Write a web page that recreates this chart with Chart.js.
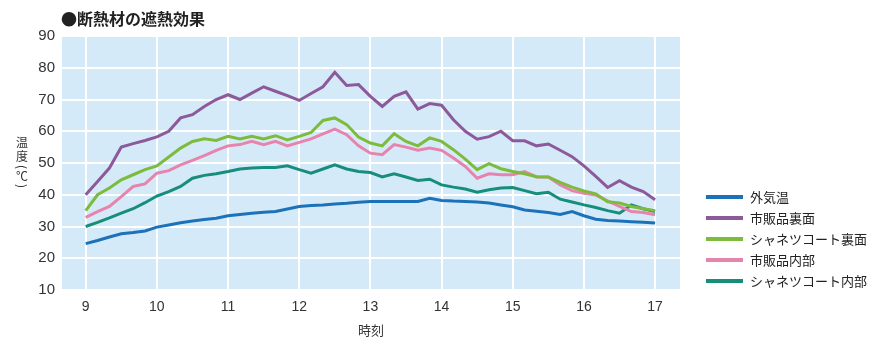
<!DOCTYPE html>
<html>
<head>
<meta charset="utf-8">
<script src="https://cdn.jsdelivr.net/npm/chart.js@4/dist/chart.umd.min.js"></script>
<style>
  body { margin: 0; background: #fff; }
  #wrap { position: relative; width: 896px; height: 364px; }
</style>
</head>
<body>
<div id="wrap"><canvas id="myChart" width="896" height="364"></canvas></div>
<script>
// 計測時刻（10分ごと）
const times = [
  '9:00','9:10','9:20','9:30','9:40','9:50',
  '10:00','10:10','10:20','10:30','10:40','10:50',
  '11:00','11:10','11:20','11:30','11:40','11:50',
  '12:00','12:10','12:20','12:30','12:40','12:50',
  '13:00','13:10','13:20','13:30','13:40','13:50',
  '14:00','14:10','14:20','14:30','14:40','14:50',
  '15:00','15:10','15:20','15:30','15:40','15:50',
  '16:00','16:10','16:20','16:30','16:40','16:50',
  '17:00'
];
const hourTicks = [9, 10, 11, 12, 13, 14, 15, 16, 17];
const tempTicks = [10, 20, 30, 40, 50, 60, 70, 80, 90];

const seriesNames = ['外気温', '市販品裏面', 'シャネツコート裏面', '市販品内部', 'シャネツコート内部'];

const outside = [
  24.6, 25.6, 26.7, 27.7, 28.1, 28.6,
  29.8, 30.5, 31.2, 31.7, 32.2, 32.6,
  33.4, 33.8, 34.2, 34.5, 34.7, 35.5,
  36.3, 36.6, 36.8, 37.1, 37.3, 37.6,
  37.9, 37.9, 37.9, 37.9, 37.9, 38.9,
  38.2, 38.0, 37.9, 37.7, 37.4, 36.8,
  36.2, 35.2, 34.8, 34.4, 33.8, 34.7,
  33.4, 32.3, 31.9, 31.7, 31.5, 31.3,
  31.1
];
const shihanUra = [
  40.0, 44.2, 48.4, 55.0, 56.1, 57.1,
  58.2, 60.0, 64.2, 65.2, 67.8, 70.0,
  71.5, 70.0, 72.0, 74.0, 72.6, 71.2,
  69.7, 71.9, 74.0, 78.6, 74.4, 74.7,
  71.0, 67.8, 71.0, 72.4, 67.0, 68.7,
  68.2, 63.6, 60.0, 57.5, 58.3, 60.0,
  57.0, 57.0, 55.4, 56.0, 54.0, 52.0,
  49.1, 45.8, 42.3, 44.4, 42.4, 41.0,
  38.4
];
const shanetsuUra = [
  35.0, 40.0, 42.1, 44.7, 46.3, 47.9,
  49.1, 51.9, 54.7, 56.8, 57.6, 57.1,
  58.4, 57.6, 58.4, 57.6, 58.6, 57.3,
  58.4, 59.6, 63.4, 64.2, 62.1, 58.2,
  56.3, 55.4, 59.2, 56.8, 55.4, 57.9,
  56.8, 54.2, 51.2, 47.9, 49.8, 48.2,
  47.3, 46.6, 45.7, 45.6, 43.9, 42.4,
  41.2, 40.3, 37.8, 37.4, 36.3, 35.6,
  35.0
];
const shihanNai = [
  32.9, 34.7, 36.3, 39.4, 42.6, 43.4,
  46.8, 47.6, 49.4, 50.8, 52.3, 54.0,
  55.4, 55.8, 56.8, 55.8, 56.8, 55.4,
  56.5, 57.6, 59.2, 60.7, 58.9, 55.4,
  53.1, 52.6, 55.8, 55.0, 54.0, 54.7,
  54.0, 51.6, 48.9, 45.2, 46.6, 46.3,
  46.3, 47.3, 45.6, 45.6, 43.1, 41.3,
  40.5, 39.9, 38.1, 36.3, 34.7, 34.4,
  33.7
];
const shanetsuNai = [
  30.0, 31.3, 32.7, 34.2, 35.6, 37.5,
  39.6, 41.0, 42.6, 45.2, 46.1, 46.6,
  47.3, 48.1, 48.4, 48.6, 48.6, 49.1,
  47.9, 46.8, 48.1, 49.4, 48.1, 47.3,
  47.0, 45.6, 46.6, 45.6, 44.5, 44.9,
  43.1, 42.4, 41.8, 40.8, 41.6, 42.1,
  42.3, 41.3, 40.3, 40.8, 38.6, 37.7,
  36.8, 36.0, 35.0, 34.2, 36.8, 35.6,
  34.7
];

const colors = ['#1c72b8', '#8c5a9a', '#7cbb3b', '#e784ae', '#178d7c'];
const allSeries = [outside, shihanUra, shanetsuUra, shihanNai, shanetsuNai];

function toHour(s) {
  const p = s.split(':');
  return Number(p[0]) + Number(p[1]) / 60;
}

const numFont = "'Liberation Sans', Arial, sans-serif";
const jpFont = "'Noto Sans CJK JP', sans-serif";

// 背景（プロット領域の水色）
const bgPlugin = {
  id: 'plotBg',
  beforeDraw(chart) {
    const a = chart.chartArea, ctx = chart.ctx;
    ctx.save();
    ctx.fillStyle = '#d5eaf8';
    ctx.fillRect(a.left, a.top, a.right - a.left, a.bottom - a.top);
    ctx.restore();
  }
};

// タイトル・縦書きの軸名・凡例
const textPlugin = {
  id: 'texts',
  afterDraw(chart) {
    const ctx = chart.ctx;
    ctx.save();
    ctx.fillStyle = '#222';
    ctx.font = 'bold 16px ' + jpFont;
    ctx.textBaseline = 'middle';
    ctx.textAlign = 'left';
    ctx.fillText('●断熱材の遮熱効果', 61, 19);

    // 縦書き「温度（℃）」 括弧は90度回転
    ctx.font = '12px ' + jpFont;
    ctx.fillStyle = '#333';
    ctx.textAlign = 'center';
    ctx.fillText('温', 22, 142.5);
    ctx.fillText('度', 22, 156);
    ctx.fillText('℃', 22, 176.5);
    [['(', 167], [')', 186]].forEach(([c, y]) => {
      ctx.save();
      ctx.translate(22, y);
      ctx.rotate(Math.PI / 2);
      ctx.fillText(c, 0, 0);
      ctx.restore();
    });

    ctx.textAlign = 'left';
    ctx.font = '13px ' + jpFont;
    chart.data.datasets.forEach((ds, i) => {
      const y = 197 + i * 21;
      ctx.strokeStyle = ds.borderColor;
      ctx.lineWidth = 4;
      ctx.beginPath();
      ctx.moveTo(706, y);
      ctx.lineTo(743, y);
      ctx.stroke();
      ctx.fillStyle = '#222';
      ctx.fillText(ds.label, 750, y);
    });
    ctx.restore();
  }
};

const ctx = document.getElementById('myChart').getContext('2d');
new Chart(ctx, {
  type: 'line',
  data: {
    datasets: allSeries.map((vals, i) => ({
      label: seriesNames[i],
      data: vals.map((v, j) => ({ x: toHour(times[j]), y: v })),
      borderColor: colors[i],
      backgroundColor: colors[i],
      borderWidth: 3,
      pointRadius: 0,
      tension: 0,
      fill: false
    }))
  },
  options: {
    responsive: false,
    animation: false,
    layout: { padding: { left: 0, right: 216, top: 36, bottom: 0 } },
    plugins: {
      legend: { display: false },
      tooltip: { enabled: false }
    },
    scales: {
      x: {
        type: 'linear',
        min: 8.667,
        max: 17.35,
        afterBuildTicks: s => { s.ticks = hourTicks.map(v => ({ value: v })); },
        afterFit: s => { s.height = 74; },
        grid: { color: '#ffffff', lineWidth: 2, drawTicks: false },
        border: { display: false },
        ticks: { font: { family: numFont, size: 14 }, color: '#333', padding: 9 },
        title: {
          display: true,
          text: '時刻',
          font: { family: jpFont, size: 13 },
          color: '#333',
          padding: { top: 0, bottom: 26 }
        }
      },
      y: {
        min: 10,
        max: 90,
        afterBuildTicks: s => { s.ticks = tempTicks.map(v => ({ value: v })); },
        afterFit: s => { s.width = 62; },
        grid: { color: '#ffffff', lineWidth: 2, drawTicks: false },
        border: { display: false },
        ticks: { font: { family: numFont, size: 15 }, color: '#333', padding: 7 }
      }
    }
  },
  plugins: [bgPlugin, textPlugin]
});
</script>
</body>
</html>
